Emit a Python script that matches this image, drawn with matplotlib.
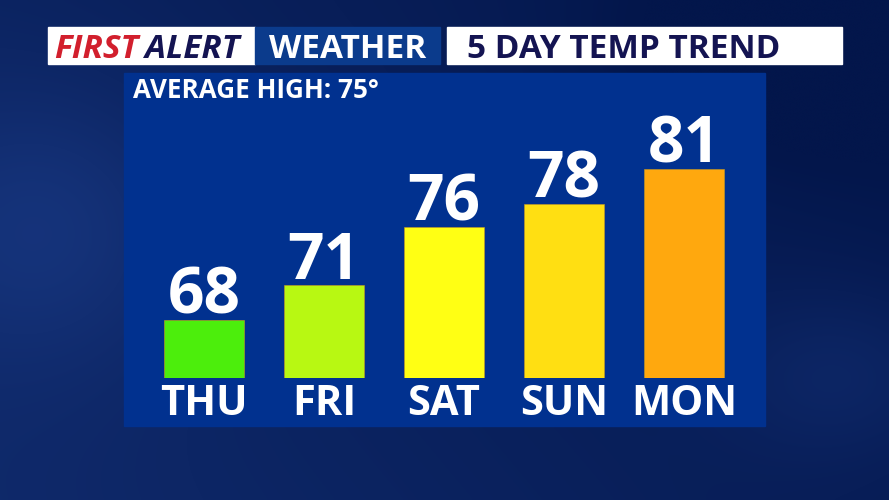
import numpy as np
import matplotlib.pyplot as plt
from matplotlib.patches import Rectangle

# data
days = ['THU', 'FRI', 'SAT', 'SUN', 'MON']
highs = [68, 71, 76, 78, 81]
bar_colors = ['#4cee0c', '#b8f812', '#ffff14', '#ffdf12', '#ffa80e']
avg_high = 75

W, H = 889, 500
fig = plt.figure(figsize=(W / 100, H / 100), dpi=100)

# background in pixel coordinates (y down)
bg = fig.add_axes([0, 0, 1, 1])
bg.set_xlim(0, W)
bg.set_ylim(H, 0)
bg.axis('off')

# dark blue sky gradient with a few soft lighter patches
xx, yy = np.meshgrid(np.linspace(0, 1, 300), np.linspace(0, 1, 170))
light = 0.32 * (1 - xx) + 0.15 * yy
light += 0.35 * np.exp(-((xx - 0.05) ** 2 / 0.03 + (yy - 0.45) ** 2 / 0.08))
light += 0.25 * np.exp(-((xx - 0.95) ** 2 / 0.02 + (yy - 0.75) ** 2 / 0.03))
light -= 0.2 * np.exp(-((xx - 0.9) ** 2 / 0.05 + (yy - 0.1) ** 2 / 0.05))
light = np.clip(light, 0, 1)
dark = np.array([3, 22, 75]) / 255
lite = np.array([28, 62, 140]) / 255
img = dark + light[..., None] * (lite - dark)
bg.imshow(img, extent=[0, W, H, 0], aspect='auto', interpolation='bicubic', zorder=0)

# header boxes
bg.add_patch(Rectangle((48, 27), 207, 37, color='white', zorder=2))
bg.add_patch(Rectangle((255, 27), 185, 37, color='#0b3b8c', zorder=2))
bg.add_patch(Rectangle((447, 27), 395, 37, color='white', zorder=2))
bg.text(54, 58, 'FIRST', fontsize=24, fontweight='bold', style='italic',
        color='#d21f2d', family='Open Sans', zorder=3)
bg.text(145, 58, 'ALERT', fontsize=24, fontweight='bold', style='italic',
        color='#141452', family='Open Sans', zorder=3)
bg.text(347.5, 58, 'WEATHER', fontsize=24, fontweight='bold', color='white',
        family='Open Sans', ha='center', zorder=3)
bg.text(467, 58, '5 DAY TEMP TREND', fontsize=24, fontweight='bold',
        color='#141452', family='Open Sans', zorder=3)

# chart panel
bg.add_patch(Rectangle((124, 73), 641, 353, color='#01318f', zorder=1))
bg.text(133, 98, f'AVERAGE HIGH: {avg_high}°', fontsize=18.7, fontweight='bold',
        color='white', family='Open Sans', zorder=3)

# bars
ax = fig.add_axes([144 / W, (H - 378) / H, 600 / W, 11.6 * 22 / H])
ax.set_xlim(-0.5, 4.5)
ax.set_ylim(63, 85)
ax.axis('off')
x = np.arange(len(days))
ax.bar(x, [h - 63 for h in highs], bottom=63, width=80 / 120, color=bar_colors,
       edgecolor='#c89a20', linewidth=0.4)

for xi, h, d in zip(x, highs, days):
    ax.annotate(str(h), (xi, h), xytext=(0, 4.5), textcoords='offset points',
                ha='center', va='baseline', fontsize=46, fontweight='bold',
                color='white', family='Open Sans')
    ax.annotate(d, (xi, 63), xytext=(0, -26.5), textcoords='offset points',
                ha='center', va='baseline', fontsize=30, fontweight='bold',
                color='white', family='Open Sans', annotation_clip=False)

fig.savefig('out.png', dpi=100)
